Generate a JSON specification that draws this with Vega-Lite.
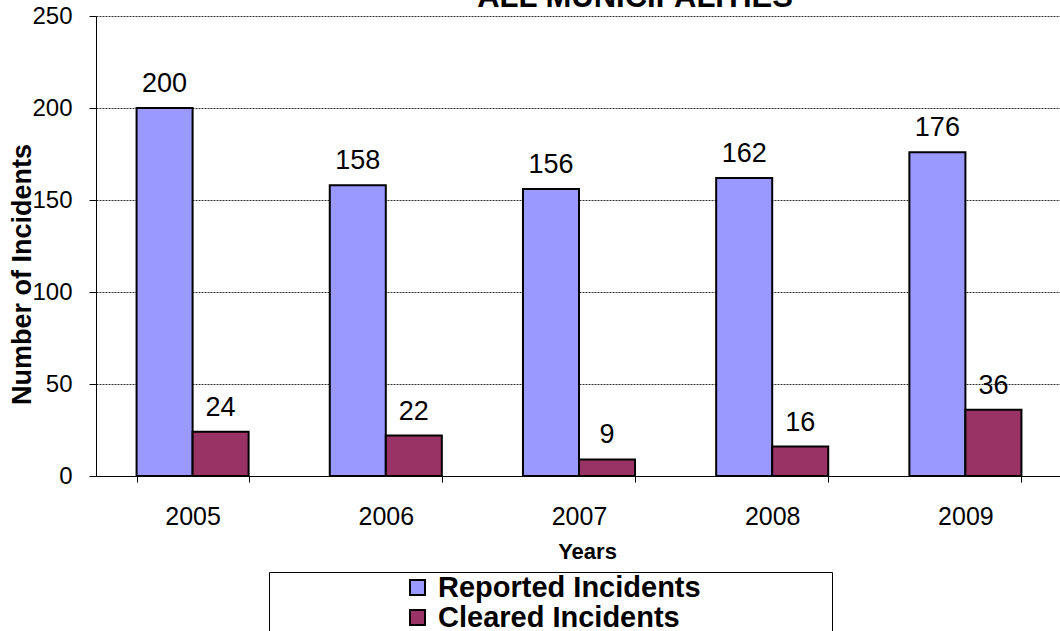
{
  "$schema": "https://vega.github.io/schema/vega-lite/v6.json",
  "autosize": "none",
  "width": 966,
  "height": 460,
  "padding": {"left": 96, "top": 16, "right": 0, "bottom": 155},
  "background": "white",
  "config": {
    "view": {"stroke": null},
    "font": "Liberation Sans"
  },
  "title": {
    "text": "ALL MUNICIPALITIES",
    "font": "Liberation Sans",
    "fontSize": 31,
    "fontWeight": "bold",
    "color": "black",
    "anchor": "middle",
    "baseline": "alphabetic",
    "offset": 0,
    "dx": 56,
    "dy": 34
  },
  "data": {
    "values": [
      {"year": "2005", "series": "Reported Incidents", "value": 200},
      {"year": "2005", "series": "Cleared Incidents", "value": 24},
      {"year": "2006", "series": "Reported Incidents", "value": 158},
      {"year": "2006", "series": "Cleared Incidents", "value": 22},
      {"year": "2007", "series": "Reported Incidents", "value": 156},
      {"year": "2007", "series": "Cleared Incidents", "value": 9},
      {"year": "2008", "series": "Reported Incidents", "value": 162},
      {"year": "2008", "series": "Cleared Incidents", "value": 16},
      {"year": "2009", "series": "Reported Incidents", "value": 176},
      {"year": "2009", "series": "Cleared Incidents", "value": 36}
    ]
  },
  "encoding": {
    "x": {
      "field": "year",
      "type": "nominal",
      "scale": {"paddingInner": 0.42, "paddingOuter": 0.21},
      "axis": {
        "title": "Years",
        "titleFont": "Liberation Sans",
        "titleFontSize": 22,
        "titleFontWeight": "bold",
        "titleColor": "black",
        "titleX": 491,
        "titleY": 82,
        "titleBaseline": "alphabetic",
        "titleAnchor": null,
        "labelAngle": 0,
        "labelFont": "Liberation Sans",
        "labelFontSize": 25,
        "labelColor": "black",
        "labelPadding": 22,
        "tickBand": "extent",
        "tickSize": 6,
        "tickColor": "black",
        "domainColor": "black",
        "grid": false
      }
    },
    "xOffset": {
      "field": "series",
      "type": "nominal",
      "sort": ["Reported Incidents", "Cleared Incidents"],
      "scale": {"paddingInner": 0, "paddingOuter": 0}
    },
    "y": {
      "field": "value",
      "type": "quantitative",
      "scale": {"domain": [0, 250], "nice": false},
      "axis": {
        "values": [0, 50, 100, 150, 200, 250],
        "title": "Number of Incidents",
        "titleFont": "Liberation Sans",
        "titleFontSize": 27,
        "titleFontWeight": "bold",
        "titleColor": "black",
        "titleAngle": -90,
        "titleX": -74,
        "titleY": 258,
        "titleAlign": "center",
        "titleBaseline": "middle",
        "titleAnchor": null,
        "labelFont": "Liberation Sans",
        "labelFontSize": 24,
        "labelColor": "black",
        "labelPadding": 17,
        "tickSize": 7,
        "tickColor": "black",
        "domainColor": "black",
        "grid": true,
        "gridColor": "#333333",
        "gridDash": [2, 1],
        "gridWidth": 1
      }
    }
  },
  "layer": [
    {
      "mark": {"type": "bar", "stroke": "black", "strokeWidth": 2},
      "encoding": {
        "color": {
          "field": "series",
          "type": "nominal",
          "scale": {
            "domain": ["Reported Incidents", "Cleared Incidents"],
            "range": ["#9999FF", "#993366"]
          },
          "legend": {
            "orient": "none",
            "legendX": 173,
            "legendY": 556,
            "direction": "vertical",
            "title": "\u00a0",
            "titleOrient": "right",
            "titlePadding": 130,
            "titleFontSize": 10,
            "padding": 1,
            "fillColor": "white",
            "strokeColor": "black",
            "symbolType": "square",
            "symbolSize": 225,
            "symbolStrokeColor": "black",
            "symbolStrokeWidth": 2,
            "symbolOpacity": 1,
            "symbolOffset": 133,
            "labelOffset": 6,
            "labelFont": "Liberation Sans",
            "labelFontSize": 29,
            "labelFontWeight": "bold",
            "labelColor": "black",
            "labelLimit": 0,
            "rowPadding": 0
          }
        }
      }
    },
    {
      "mark": {"type": "text", "baseline": "alphabetic", "dy": -16, "fontSize": 27, "font": "Liberation Sans", "color": "black"},
      "encoding": {
        "text": {"field": "value", "type": "quantitative"}
      }
    }
  ]
}
